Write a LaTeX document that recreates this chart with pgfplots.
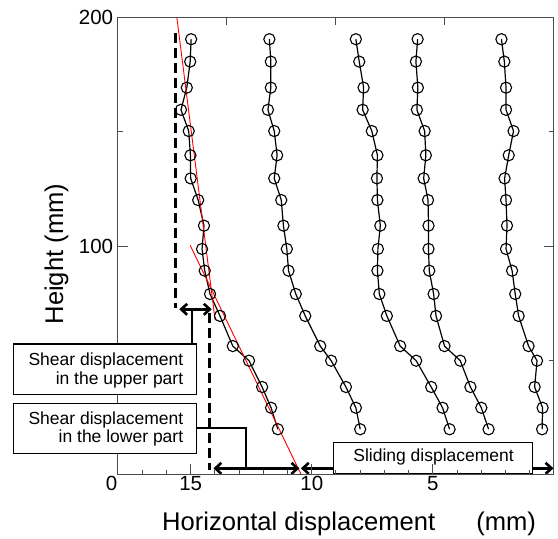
\documentclass[border=0pt]{standalone}
\usepackage{pgfplots}
\pgfplotsset{compat=1.18}
\usepackage{pgfplotstable}
\usepackage{fontspec}
\setmainfont{Liberation Sans}
\usetikzlibrary{arrows.meta}

% Horizontal displacement profiles (mm) at each measurement height (mm)
\pgfplotstableread{
h     s1    s2    s3   s4   s5
190.5 14.98 11.75 8.18 5.63 2.17
180.7 15.02 11.69 8.04 5.70 2.05
169.3 15.16 11.69 7.86 5.62 1.98
159.6 15.40 11.81 7.90 5.66 1.98
150.3 15.08 11.55 7.52 5.34 1.67
139.7 15.01 11.43 7.29 5.29 1.87
129.6 15.00 11.55 7.31 5.38 2.04
120.1 14.69 11.26 7.29 5.20 1.98
108.9 14.45 11.17 7.17 5.18 1.94
98.7  14.53 11.03 7.27 5.18 1.98
89.2  14.42 10.96 7.29 5.15 1.73
79.0  14.20 10.66 7.21 4.97 1.60
69.4  13.79 10.27 6.90 4.87 1.46
56.2  13.26 9.65  6.35 4.52 1.05
49.8  12.59 9.20  5.69 3.87 0.70
38.3  12.05 8.59  5.07 3.45 0.80
29.2  11.68 8.18  4.60 3.00 0.47
19.8  11.40 8.00  4.31 2.70 0.49
}\profiles

\tikzset{
  barb/.tip={Straight Barb[length=6pt,width=11pt]},
  note/.style={font=\fontsize{17.5}{21}\selectfont, inner sep=0pt},
}
\pgfplotsset{
  profile/.style={black, line width=1.2pt,
    mark=o, mark size=5.6pt, mark options={fill=white, line width=1.1pt, solid}},
  fit/.style={red, line width=0.9pt, no marks},
  guide/.style={black, line width=2.4pt, no marks, dash pattern=on 10pt off 5pt},
}

\begin{document}
\begin{tikzpicture}
\useasboundingbox (-118pt,-64.5pt) rectangle (440pt,474.5pt);
\begin{axis}[
  at={(0,0)}, anchor=south west, scale only axis,
  width=436pt, height=457pt,
  xmin=0, xmax=18, x dir=reverse,
  ymin=0, ymax=200,
  clip=false, axis on top,
  xtick={15,10,5},
  minor xtick={1,2,3,4,6,7,8,9,11,12,13,14,16,17},
  xtick pos=left,
  ytick={100,200}, minor ytick={50,150},
  tick align=inside,
  major tick length=10pt, minor tick length=5pt,
  axis line style={black!70, line width=1pt},
  every tick/.style={black!70, line width=1pt},
  /pgf/number format/assume math mode=true,
  tick label style={font=\fontsize{20.5}{24}\selectfont, black},
  xticklabel style={anchor=north, inner sep=0pt, yshift=-1.5pt},
  yticklabel style={anchor=east, inner sep=0pt, xshift=-4.7pt},
  ylabel={Height (mm)},
  ylabel style={at={(axis cs:20.27,96.5)}, anchor=base, inner sep=0pt,
    font=\fontsize{25.6}{30}\selectfont},
]
\addplot[profile] table[x=s1, y=h] {\profiles};
\addplot[profile] table[x=s2, y=h] {\profiles};
\addplot[profile] table[x=s3, y=h] {\profiles};
\addplot[profile] table[x=s4, y=h] {\profiles};
\addplot[profile] table[x=s5, y=h] {\profiles};

% fitted lines for the upper and lower parts
\addplot[fit] coordinates {(15.57,200) (13.99,67.6)};
\addplot[fit] coordinates {(15.02,100.3) (10.44,0)};

% construction lines
\addplot[guide] coordinates {(15.62,193) (15.62,72.7)};
\addplot[guide] coordinates {(14.23,70.7) (14.23,2)};

% displacement arrows
\draw[line width=2.6pt, barb-barb] (axis cs:15.47,72.3) -- (axis cs:14.13,72.3);
\draw[line width=2.6pt, barb-barb] (axis cs:14.06,2.7) -- (axis cs:10.51,2.7);
\draw[line width=2.6pt, barb-barb] (axis cs:10.45,2.7) -- (axis cs:0.02,2.7);

% leaders to the notes
\draw[line width=2.6pt] (axis cs:14.94,72.3) -- (axis cs:14.94,57.1);
\draw[line width=2.6pt] (axis cs:14.75,20.4) -- (axis cs:12.71,20.4) -- (axis cs:12.71,2.7);

% sliding note
\draw[fill=white, line width=1.1pt] (axis cs:9.10,13.9) rectangle (axis cs:0.88,0.5);
\node[note, anchor=base] at (axis cs:4.97,5.6) {Sliding displacement};

\node[anchor=north, inner sep=0pt, yshift=-1.5pt, font=\fontsize{20.5}{24}\selectfont]
  at (axis cs:18.26,0) {0};

\coordinate (xt) at (axis cs:8.46,0);

\coordinate (uA) at (axis cs:22.33,57.1);
\coordinate (uB) at (axis cs:14.75,35.2);
\coordinate (lA) at (axis cs:22.33,31.2);
\coordinate (lB) at (axis cs:14.75,9.3);
\coordinate (u1) at (axis cs:15.30,47.5);
\coordinate (u2) at (axis cs:15.30,39.6);
\coordinate (l1) at (axis cs:15.30,22.1);
\coordinate (l2) at (axis cs:15.30,13.9);
\end{axis}

% top ticks
\begin{axis}[
  at={(0,0)}, anchor=south west, scale only axis,
  width=436pt, height=457pt,
  xmin=0, xmax=18, x dir=reverse,
  ymin=0, ymax=200,
  xtick={13.5,9,4.5}, xticklabels={}, xtick pos=right,
  ytick=\empty,
  tick align=inside, major tick length=7pt,
  axis line style={black!70, line width=1pt},
  every tick/.style={black!70, line width=1pt},
]
\end{axis}

% x axis title
\node[anchor=base, inner sep=0pt, font=\fontsize{25.6}{30}\selectfont]
  at ([yshift=-56pt]xt) {Horizontal displacement\hspace{41pt}(mm)};

% shear notes
\draw[fill=white, line width=1.1pt] (uA) rectangle (uB);
\node[note, anchor=base east] at (u1) {Shear displacement};
\node[note, anchor=base east] at (u2) {in the upper part};
\draw[fill=white, line width=1.1pt] (lA) rectangle (lB);
\node[note, anchor=base east] at (l1) {Shear displacement};
\node[note, anchor=base east] at (l2) {in the lower part};
\end{tikzpicture}
\end{document}
